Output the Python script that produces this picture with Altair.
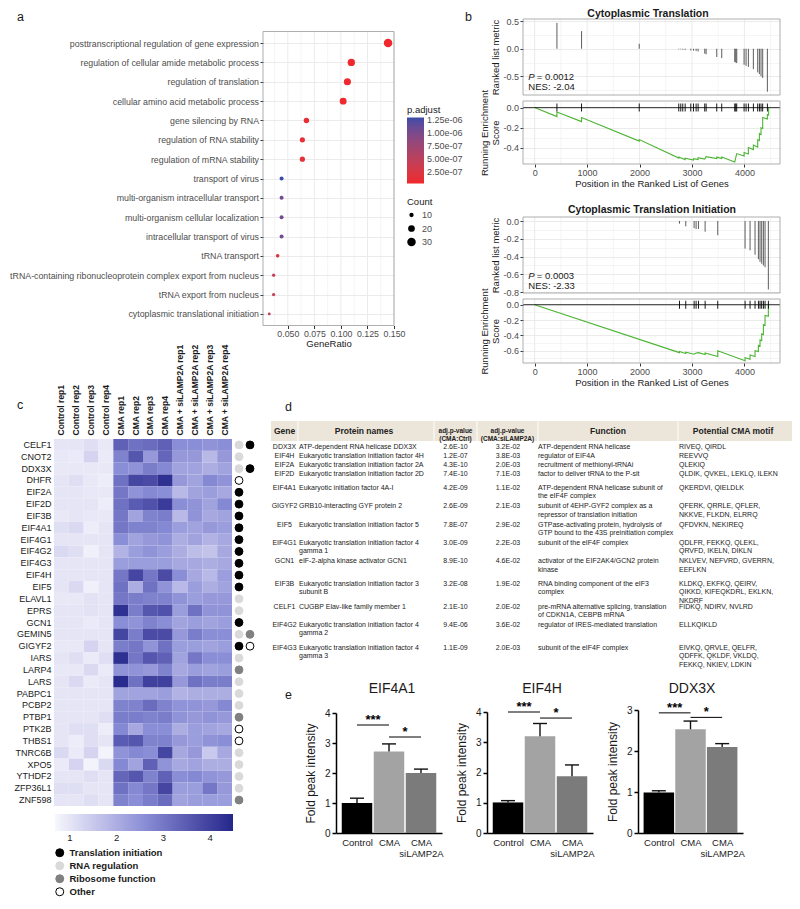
import json
import altair as alt
import pandas as pd

W, H = 784, 893


def px(v):
    return v - 8


def py(v):
    return v - 8


FONT = "Liberation Sans"
GRID = "#EBEBEB"
FRAME = "#9A9A9A"
AXC = "#333333"
LABC = "#4D4D4D"
TXT = "#1A1A1A"
ES_GREEN = "#4DB535"

# ---------------- panel a data ----------------
go_terms = [
    "posttranscriptional regulation of gene expression",
    "regulation of cellular amide metabolic process",
    "regulation of translation",
    "cellular amino acid metabolic process",
    "gene silencing by RNA",
    "regulation of RNA stability",
    "regulation of mRNA stability",
    "transport of virus",
    "multi-organism intracellular transport",
    "multi-organism cellular localization",
    "intracellular transport of virus",
    "tRNA transport",
    "tRNA-containing ribonucleoprotein complex export from nucleus",
    "tRNA export from nucleus",
    "cytoplasmic translational initiation",
]
go_ratio = [0.1444, 0.1098, 0.1061, 0.1021, 0.0675, 0.0637, 0.0637, 0.0441, 0.0441,
            0.0441, 0.0441, 0.0404, 0.0366, 0.0366, 0.0325]
go_count = [30, 23, 22, 21, 14, 13, 13, 9, 9, 9, 9, 8, 7, 7, 6]
go_padj = [1.9e-08, 2.4e-08, 2.8e-08, 3.3e-08, 9.0e-08, 1.1e-07, 1.1e-07, 1.29e-06, 1.05e-06,
           1.05e-06, 1.05e-06, 2.6e-07, 4.2e-07, 4.2e-07, 5.0e-07]
padj_ticks = [2.5e-07, 5.0e-07, 7.5e-07, 1.0e-06, 1.25e-06]
count_ticks = [10, 20, 30]
ratio_ticks = [0.0375, 0.05, 0.0625, 0.075, 0.0875, 0.1, 0.1125, 0.125, 0.1375, 0.15]

# ---------------- panel b data ----------------
gsea_titles = ["Cytoplasmic Translation", "Cytoplasmic Translation Initiation"]
gsea_p = ["0.0012", "0.0003"]
gsea_nes = ["-2.04", "-2.33"]
ct_hits = [425, 895, 1994, 2749, 2787, 2825, 2870, 2978, 3029, 3079, 3117, 3244, 3270, 3473,
           3568, 3816, 3835, 3854, 3994, 4032, 4076, 4171, 4254, 4286, 4317, 4349, 4438]
ct_metric = [0.47, 0.32, 0.09, -0.01, -0.01, -0.015, -0.02, -0.03, -0.035, -0.04, -0.05, -0.09,
             -0.10, -0.15, -0.17, -0.24, -0.25, -0.26, -0.29, -0.31, -0.33, -0.37, -0.43, -0.46,
             -0.50, -0.53, -0.78]
ct_es_x = [0, 425, 425, 895, 895, 1994, 1994, 2749, 2749, 2870, 2870, 3029, 3029, 3117, 3117,
           3244, 3270, 3473, 3473, 3568, 3568, 3816, 3835, 3854, 3994, 3994, 4076, 4076, 4171,
           4171, 4254, 4254, 4286, 4286, 4317, 4317, 4349, 4349, 4438, 4438, 4462, 4462]
ct_es_y = [0, -0.09, -0.045, -0.14, -0.10, -0.335, -0.32, -0.505, -0.495, -0.52, -0.505, -0.525,
           -0.51, -0.52, -0.50, -0.515, -0.49, -0.51, -0.495, -0.51, -0.495, -0.545, -0.50, -0.46,
           -0.485, -0.45, -0.465, -0.40, -0.42, -0.375, -0.395, -0.32, -0.33, -0.26, -0.27, -0.20,
           -0.21, -0.10, -0.115, -0.07, -0.075, 0.0]
cti_hits = [2762, 2882, 3041, 3079, 3124, 3251, 3492, 4013, 4108, 4203, 4267, 4298, 4330, 4362,
            4394, 4457]
cti_metric = [-0.03, -0.06, -0.08, -0.09, -0.09, -0.12, -0.16, -0.31, -0.33, -0.38, -0.43, -0.46,
              -0.48, -0.50, -0.52, -0.77]
cti_es_x = [0, 2762, 2762, 2882, 2882, 3041, 3079, 3124, 3251, 3251, 3492, 3492, 4013, 4013, 4108,
            4108, 4203, 4203, 4267, 4267, 4298, 4298, 4330, 4330, 4362, 4362, 4394, 4394, 4457, 4457]
cti_es_y = [0, -0.625, -0.61, -0.635, -0.62, -0.645, -0.63, -0.625, -0.65, -0.63, -0.675, -0.60,
            -0.73, -0.69, -0.71, -0.655, -0.675, -0.60, -0.61, -0.53, -0.54, -0.46, -0.47, -0.38,
            -0.39, -0.26, -0.27, -0.14, -0.15, 0.0]
gsea_xticks = [0, 500, 1000, 1500, 2000, 2500, 3000, 3500, 4000, 4500]

# ---------------- panel c data ----------------
hm_samples = ["Control rep1", "Control rep2", "Control rep3", "Control rep4",
              "CMA rep1", "CMA rep2", "CMA rep3", "CMA rep4",
              "CMA + siLAMP2A rep1", "CMA + siLAMP2A rep2", "CMA + siLAMP2A rep3",
              "CMA + siLAMP2A rep4"]
hm_genes = ["CELF1", "CNOT2", "DDX3X", "DHFR", "EIF2A", "EIF2D", "EIF3B", "EIF4A1", "EIF4G1",
            "EIF4G2", "EIF4G3", "EIF4H", "EIF5", "ELAVL1", "EPRS", "GCN1", "GEMIN5", "GIGYF2",
            "IARS", "LARP4", "LARS", "PABPC1", "PCBP2", "PTBP1", "PTK2B", "THBS1", "TNRC6B",
            "XPO5", "YTHDF2", "ZFP36L1", "ZNF598"]
hm_control = [
    [1.0, 1.0, 1.1, 0.95], [0.95, 0.9, 1.3, 0.9], [0.95, 0.95, 0.95, 0.95], [1.0, 1.1, 0.95, 0.85],
    [1.0, 1.0, 0.95, 0.95], [1.0, 1.0, 1.0, 0.85], [0.95, 1.0, 0.95, 0.95], [1.1, 1.2, 0.85, 1.0],
    [1.0, 1.0, 1.0, 1.0], [1.2, 1.1, 0.8, 1.0], [1.0, 1.0, 1.0, 1.0], [1.0, 1.0, 1.0, 1.0],
    [1.0, 1.2, 0.8, 1.0], [0.95, 0.95, 1.05, 1.0], [1.0, 1.0, 1.05, 1.0], [1.0, 1.0, 0.9, 1.0],
    [1.0, 1.0, 1.0, 1.0], [0.95, 0.95, 1.3, 1.0], [1.0, 1.1, 0.9, 1.1], [0.95, 0.95, 1.2, 0.9],
    [1.0, 1.2, 0.9, 1.0], [1.0, 1.0, 1.0, 1.0], [1.0, 1.0, 1.0, 1.0], [1.0, 1.0, 1.0, 1.1],
    [1.0, 1.1, 1.1, 0.85], [1.0, 0.85, 1.1, 1.0], [1.2, 0.9, 1.3, 0.75], [0.9, 1.3, 0.75, 1.2],
    [1.0, 1.0, 1.1, 1.0], [1.1, 1.1, 1.0, 1.0], [1.0, 1.0, 1.1, 1.0],
]
hm_cma = [
    [3.4, 3.1, 3.2, 3.4], [2.8, 3.6, 2.4, 3.3], [2.6, 2.5, 2.9, 2.7], [3.1, 3.9, 3.8, 4.3],
    [3.0, 2.5, 2.7, 2.6], [3.1, 3.5, 3.7, 4.1], [3.0, 2.2, 2.8, 2.9], [3.0, 2.8, 2.8, 2.7],
    [2.6, 2.2, 2.4, 2.5], [1.9, 2.3, 2.5, 2.3], [2.3, 2.3, 2.3, 2.3], [3.0, 3.9, 3.0, 3.8],
    [3.1, 2.0, 3.1, 2.5], [3.0, 2.9, 2.8, 2.8], [4.3, 2.9, 3.6, 3.7], [2.6, 2.5, 2.8, 2.6],
    [3.9, 2.9, 3.8, 3.8], [2.9, 3.0, 2.5, 3.1], [4.3, 3.0, 3.6, 3.4], [2.5, 2.5, 2.4, 2.8],
    [4.4, 3.1, 4.0, 4.0], [2.2, 2.2, 2.2, 2.3], [2.8, 2.8, 3.2, 2.8], [2.9, 2.9, 2.8, 2.9],
    [2.7, 2.1, 2.6, 2.6], [3.5, 3.6, 2.8, 2.8], [2.5, 2.7, 2.6, 3.9], [2.7, 2.2, 3.4, 2.5],
    [3.3, 3.6, 2.8, 3.4], [3.1, 2.7, 3.0, 3.9], [2.8, 2.6, 2.9, 3.2],
]
hm_si = [
    [2.6, 2.6, 2.5, 2.6], [2.4, 2.4, 1.8, 2.4], [2.2, 2.2, 2.0, 2.2], [2.4, 2.2, 2.7, 2.5],
    [1.8, 2.2, 2.3, 2.1], [2.6, 2.5, 2.2, 2.7], [1.8, 2.5, 2.1, 2.2], [2.3, 2.2, 2.4, 2.3],
    [2.0, 2.2, 1.9, 2.1], [2.0, 1.7, 1.6, 2.1], [2.1, 2.1, 2.0, 2.1], [2.6, 2.1, 1.8, 2.3],
    [1.8, 2.3, 2.0, 2.2], [2.5, 2.3, 2.4, 2.4], [2.3, 3.1, 2.5, 2.5], [2.2, 2.3, 2.2, 2.3],
    [2.4, 2.9, 2.6, 2.6], [2.3, 2.3, 2.2, 2.3], [2.2, 3.0, 2.6, 2.6], [2.1, 2.3, 2.2, 2.3],
    [2.4, 3.1, 2.9, 2.9], [1.9, 2.0, 2.0, 2.0], [2.5, 2.5, 2.4, 2.7], [2.5, 2.4, 2.5, 2.4],
    [2.0, 2.3, 2.2, 2.1], [2.4, 2.3, 2.5, 2.6], [2.1, 2.4, 1.5, 2.1], [2.1, 2.2, 2.0, 2.0],
    [2.6, 2.7, 2.5, 2.4], [2.3, 2.3, 3.0, 2.4], [2.2, 2.3, 2.3, 2.3],
]
hm_ticks = [1, 2, 3, 4]
func_cats = ["Translation initiation", "RNA regulation", "Ribosome function", "Other"]
func_fill = ["#000000", "#D9D9D9", "#808080", "#FFFFFF"]
func_stroke = ["#000000", "#D9D9D9", "#808080", "#000000"]
gene_cats = {
    "CELF1": ["RNA regulation", "Translation initiation"], "CNOT2": ["RNA regulation"],
    "DDX3X": ["RNA regulation", "Translation initiation"], "DHFR": ["Other"],
    "EIF2A": ["Translation initiation"], "EIF2D": ["Translation initiation"],
    "EIF3B": ["Translation initiation"], "EIF4A1": ["Translation initiation"],
    "EIF4G1": ["Translation initiation"], "EIF4G2": ["Translation initiation"],
    "EIF4G3": ["Translation initiation"], "EIF4H": ["Translation initiation"],
    "EIF5": ["Translation initiation"], "ELAVL1": ["RNA regulation"], "EPRS": ["RNA regulation"],
    "GCN1": ["Translation initiation"], "GEMIN5": ["RNA regulation", "Ribosome function"],
    "GIGYF2": ["Translation initiation", "Other"], "IARS": ["RNA regulation"],
    "LARP4": ["Ribosome function"], "LARS": ["RNA regulation"], "PABPC1": ["RNA regulation"],
    "PCBP2": ["RNA regulation"], "PTBP1": ["Ribosome function"], "PTK2B": ["Other"],
    "THBS1": ["Other"], "TNRC6B": ["RNA regulation"], "XPO5": ["RNA regulation"],
    "YTHDF2": ["RNA regulation"], "ZFP36L1": ["RNA regulation"], "ZNF598": ["Ribosome function"],
}

# ---------------- panel d data ----------------
tbl_header = ["Gene", "Protein names", "adj.p-value\n(CMA:Ctrl)", "adj.p-value\n(CMA:siLAMP2A)",
              "Function", "Potential CMA motif"]
tbl_gene = ["DDX3X", "EIF4H", "EIF2A", "EIF2D", "EIF4A1", "GIGYF2", "EIF5", "EIF4G1", "GCN1",
            "EIF3B", "CELF1", "EIF4G2", "EIF4G3"]
tbl_protein = [
    "ATP-dependent RNA helicase DDX3X", "Eukaryotic translation initiation factor 4H",
    "Eukaryotic translation initiation factor 2A", "Eukaryotic translation initiation factor 2D",
    "Eukaryotic initiation factor 4A-I", "GRB10-interacting GYF protein 2",
    "Eukaryotic translation initiation factor 5", "Eukaryotic translation initiation factor 4\ngamma 1",
    "eIF-2-alpha kinase activator GCN1", "Eukaryotic translation initiation factor 3\nsubunit B",
    "CUGBP Elav-like family member 1", "Eukaryotic translation initiation factor 4\ngamma 2",
    "Eukaryotic translation initiation factor 4\ngamma 3",
]
tbl_p_ctrl = ["2.6E-10", "1.2E-07", "4.3E-10", "7.4E-10", "4.2E-09", "2.6E-09", "7.8E-07",
              "3.0E-09", "8.9E-10", "3.2E-08", "2.1E-10", "9.4E-06", "1.1E-09"]
tbl_p_si = ["3.2E-02", "3.8E-03", "2.0E-03", "7.1E-03", "1.1E-02", "2.1E-03", "2.9E-02",
            "2.2E-03", "4.6E-02", "1.9E-02", "2.0E-02", "3.6E-02", "2.0E-03"]
tbl_function = [
    "ATP-dependent RNA helicase", "regulator of EIF4A", "recruitment of methionyl-tRNAi",
    "factor to deliver tRNA to the P-sit", "ATP-dependent RNA helicase subunit of\nthe eIF4F complex",
    "subunit of 4EHP-GYF2 complex as a\nrepressor of translation initiation",
    "GTPase-activating protein, hydrolysis of\nGTP bound to the 43S preinitiation complex",
    "subunit of the eIF4F complex", "activator of the EIF2AK4/GCN2 protein\nkinase",
    "RNA binding component of the eIF3\ncomplex",
    "pre-mRNA alternative splicing, translation\nof CDKN1A, CEBPB mRNA",
    "regulator of IRES-mediated translation", "subunit of the eIF4F complex",
]
tbl_motif = [
    "RIVEQ, QIRDL", "REEVVQ", "QLEKIQ", "QLDIK, QVKEL, LEKLQ, ILEKN", "QKERDVI, QIELDLK",
    "QFERK, QRRLE, QFLER,\nNKKVE, FLKDN, ELRRQ", "QFDVKN, NEKIREQ",
    "QDLFR, FEKKQ, QLEKL,\nQRVFD, IKELN, DIKLN", "NKLVEV, NEFVRD, GVERRN,\nEEFLKN",
    "KLDKQ, EKFKQ, QEIRV,\nQIKKD, KIFEQKDRL, EKLKN,\nNKDRF", "FIDKQ, NDIRV, NVLRD", "ELLKQIKLD",
    "EIVKQ, QRVLE, QELFR,\nQDFFK, QKLDF, VKLDQ,\nFEKKQ, NKIEV, LDKIN",
]

# ---------------- panel e data ----------------
bar_groups = ["Control", "CMA", "CMA siLAMP2A"]
bar_lines = [["Control"], ["CMA"], ["CMA", "siLAMP2A"]]
bar_colors = ["#000000", "#A3A3A3", "#7B7B7B"]
e_titles = ["EIF4A1", "EIF4H", "DDX3X"]
e_mean = [[1.0, 2.72, 2.0], [1.01, 3.2, 1.88], [0.99, 2.53, 2.1]]
e_upper = [[1.16, 2.97, 2.13], [1.07, 3.62, 2.25], [1.03, 2.73, 2.18]]
e_sig_level = [[3.6, 3.2], [4.0, 3.8], [2.93, 2.82]]
e_sig_label = ["***", "*"]
e_ymax = [4, 4, 3]

one = pd.DataFrame({"k": [0]})
layers = []


def is_major(v, step):
    return abs(v / step - round(v / step)) < 0.01


def grid_frame(ticks, step):
    return pd.DataFrame({"v": ticks, "w": [1.0 if is_major(v, step) else 0.5 for v in ticks]})


# =============== panel a =================
dfa = pd.DataFrame({"term": go_terms, "ratio": go_ratio, "count": go_count, "padj": go_padj})
A_XDOM = [0.0266, 0.150]
A_XR = [px(263), px(394)]
A_YR = [py(31.5), py(325.5)]
mt_a = "abs(datum.value / 0.025 - round(datum.value / 0.025)) > 0.01"
a_xscale = alt.Scale(domain=A_XDOM, range=A_XR, nice=False, zero=False)
a_xaxis = alt.Axis(orient="bottom", offset=A_YR[1] - H, values=ratio_ticks, grid=False,
                   tickOpacity={"condition": {"test": mt_a, "value": 0}, "value": 1},
                   labelExpr="(" + mt_a + ") ? '' : format(datum.value, '.3f')",
                   tickColor=AXC, tickSize=3, domain=False, labelFontSize=8.8,
                   labelColor=LABC, labelPadding=0.5, labelFlush=False, labelOverlap=False,
                   title="GeneRatio", titleFontSize=9.5, titleFontWeight="normal",
                   titleColor=TXT, titlePadding=1)
a_grid = alt.Chart(grid_frame(ratio_ticks, 0.025)).mark_rule(color=GRID).encode(
    x=alt.X("v:Q", scale=a_xscale, axis=a_xaxis),
    y=alt.value(A_YR[0]), y2=alt.value(A_YR[1]),
    strokeWidth=alt.StrokeWidth("w:Q", scale=None, legend=None))
a_pts = alt.Chart(dfa).mark_circle(opacity=1).encode(
    x=alt.X("ratio:Q", scale=a_xscale, axis=a_xaxis),
    y=alt.Y("term:N", sort=go_terms,
            scale=alt.Scale(type="point", domain=go_terms, range=A_YR, padding=0.6),
            axis=alt.Axis(orient="left", offset=-A_XR[0], grid=True, gridColor=GRID,
                          tickColor=AXC, tickSize=3, domain=False, labelFontSize=8.8,
                          labelColor=LABC, labelLimit=400, labelPadding=1.5, title=None)),
    color=alt.Color("padj:Q",
                    scale=alt.Scale(domain=[1.9e-08, 1.29e-06], range=["#f0282c", "#3b4ca8"],
                                    interpolate="lab"),
                    legend=alt.Legend(title="p.adjust", orient="none", legendX=px(407),
                                      legendY=py(105), direction="vertical", gradientLength=66,
                                      gradientThickness=17, values=padj_ticks,
                                      labelExpr="replace(replace(format(datum.value, '.2e'), '\u2212', '-'), 'e-', 'e-0')",
                                      labelFontSize=9, labelColor=LABC, titleFontSize=9.5,
                                      titleFontWeight="normal", titleColor=TXT, titlePadding=3,
                                      labelOffset=3, gradientStrokeWidth=0, labelOverlap=False)),
    size=alt.Size("count:Q", scale=alt.Scale(domain=[6, 30], range=[8, 72]),
                  legend=alt.Legend(title="Count", orient="none", legendX=px(407),
                                    legendY=py(197), values=count_ticks, symbolFillColor="black",
                                    symbolStrokeWidth=0, symbolType="circle", labelFontSize=9,
                                    labelColor=LABC, titleFontSize=9.5, titleFontWeight="normal",
                                    titleColor=TXT, rowPadding=3.5, titlePadding=4,
                                    labelOffset=6)),
)
a_frame = alt.Chart(one).mark_rect(fill="transparent", stroke=FRAME, strokeWidth=0.8).encode(
    x=alt.XDatum(A_XDOM[0], scale=a_xscale, axis=a_xaxis), x2=alt.X2Datum(A_XDOM[1]),
    y=alt.value(A_YR[0]), y2=alt.value(A_YR[1]))
layers.append(alt.layer(a_grid, a_pts, a_frame))

# =============== panel b =================
B_XDOM = [-222, 4679]
B_XR = [px(523), px(780)]


def minor_test(step):
    return "abs(datum.value / %s - round(datum.value / %s)) > 0.01" % (step, step)


def yaxis_b(values, step, title):
    mt = minor_test(step)
    return alt.Axis(orient="left", offset=-B_XR[0], values=values, grid=True, gridColor=GRID,
                    gridWidth={"condition": {"test": mt, "value": 0.5}, "value": 1},
                    tickOpacity={"condition": {"test": mt, "value": 0}, "value": 1},
                    labelExpr="(" + mt + ") ? '' : replace(format(datum.value, '.1f'), '\u2212', '-')",
                    tickColor=AXC, tickSize=3, domain=False, labelFontSize=9, labelColor=LABC,
                    labelPadding=1.5, labelOverlap=False, labelFlush=False, title=title,
                    titleFontSize=9.5, titleFontWeight="normal", titleColor=TXT, titlePadding=2,
                    titleLineHeight=11)


def xaxis_b(bottom, labels):
    mt = "datum.value % 1000 != 0"
    kw = dict(orient="bottom", offset=bottom - H, values=gsea_xticks, grid=False, domain=False,
              labelFlush=False, labelOverlap=False)
    if labels:
        kw.update(labelExpr="(" + mt + ") ? '' : format(datum.value, 'd')",
                  tickOpacity={"condition": {"test": mt, "value": 0}, "value": 1},
                  tickColor=AXC, tickSize=3, labelFontSize=9, labelColor=LABC, labelPadding=1.5,
                  title="Position in the Ranked List of Genes", titleFontSize=9.5,
                  titleFontWeight="normal", titleColor=TXT, titlePadding=1)
    else:
        kw.update(labels=False, ticks=False, title="")
    return alt.Axis(**kw)


def gsea(idx, hits, metric, es_x, es_y, top_dom, top_px, bot_dom, bot_px, top_vals, top_step,
         bot_vals, bot_step, ann_y):
    ts = alt.Scale(domain=top_dom, range=[py(top_px[1]), py(top_px[0])], nice=False, zero=False)
    bs = alt.Scale(domain=bot_dom, range=[py(bot_px[1]), py(bot_px[0])], nice=False, zero=False)
    xs1 = alt.Scale(domain=B_XDOM, range=B_XR, nice=False, zero=False)
    xs2 = alt.Scale(domain=B_XDOM, range=B_XR, nice=False, zero=False)
    ax_tx = xaxis_b(py(top_px[1]), False)
    ax_ty = yaxis_b(top_vals, top_step, "Ranked list metric")
    ax_bx = xaxis_b(py(bot_px[1]), True)
    ax_by = yaxis_b(bot_vals, bot_step, ["Running Enrichment", "Score"])
    gdf = grid_frame(gsea_xticks, 1000)

    grid_t = alt.Chart(gdf).mark_rule(color=GRID).encode(
        x=alt.X("v:Q", scale=xs1, axis=ax_tx),
        y=alt.YDatum(top_dom[0], scale=ts, axis=ax_ty), y2=alt.Y2Datum(top_dom[1]),
        strokeWidth=alt.StrokeWidth("w:Q", scale=None, legend=None))
    dft = pd.DataFrame({"pos": hits, "metric": metric})
    rules = alt.Chart(dft).mark_rule(color="#333333", strokeWidth=0.8).encode(
        x=alt.X("pos:Q", scale=xs1, axis=ax_tx),
        y=alt.Y("metric:Q", scale=ts, axis=ax_ty),
        y2=alt.Y2Datum(0))
    frame_t = alt.Chart(one).mark_rect(fill="transparent", stroke=FRAME, strokeWidth=0.8).encode(
        x=alt.XDatum(B_XDOM[0], scale=xs1, axis=ax_tx), x2=alt.X2Datum(B_XDOM[1]),
        y=alt.YDatum(top_dom[0], scale=ts, axis=ax_ty), y2=alt.Y2Datum(top_dom[1]))
    dfann = pd.DataFrame({"x": [-120, -120, -120], "y": [ann_y[0], ann_y[0], ann_y[1]],
                          "t": ["P", "= " + gsea_p[idx], "NES: " + gsea_nes[idx]]})
    ann = []
    for j, (style, dx) in enumerate([("italic", 0), ("normal", 8.5), ("normal", 0)]):
        ann.append(alt.Chart(dfann.iloc[[j]]).mark_text(fontSize=9.5, fontStyle=style,
                                                        align="left", dx=dx, color=TXT).encode(
            x=alt.X("x:Q", scale=xs1, axis=ax_tx), y=alt.Y("y:Q", scale=ts, axis=ax_ty),
            text="t:N"))
    top = alt.layer(grid_t, rules, frame_t, *ann)

    grid_b = alt.Chart(gdf).mark_rule(color=GRID).encode(
        x=alt.X("v:Q", scale=xs2, axis=ax_bx),
        y=alt.YDatum(bot_dom[0], scale=bs, axis=ax_by), y2=alt.Y2Datum(bot_dom[1]),
        strokeWidth=alt.StrokeWidth("w:Q", scale=None, legend=None))
    dfe = pd.DataFrame({"pos": es_x, "es": es_y, "i": list(range(len(es_x)))})
    line = alt.Chart(dfe).mark_line(color=ES_GREEN, strokeWidth=1.1).encode(
        x=alt.X("pos:Q", scale=xs2, axis=ax_bx),
        y=alt.Y("es:Q", scale=bs, axis=ax_by),
        order=alt.Order("i:Q"))
    zero = alt.Chart(one).mark_rule(color="black", strokeWidth=0.8).encode(
        x=alt.XDatum(B_XDOM[0], scale=xs2, axis=ax_bx), x2=alt.X2Datum(B_XDOM[1]),
        y=alt.YDatum(0, scale=bs, axis=ax_by))
    ticks = alt.Chart(dft).mark_tick(orient="vertical", size=8, thickness=0.9, color="black",
                                     opacity=1).encode(
        x=alt.X("pos:Q", scale=xs2, axis=ax_bx), y=alt.YDatum(0, scale=bs, axis=ax_by))
    frame_b = alt.Chart(one).mark_rect(fill="transparent", stroke=FRAME, strokeWidth=0.8).encode(
        x=alt.XDatum(B_XDOM[0], scale=xs2, axis=ax_bx), x2=alt.X2Datum(B_XDOM[1]),
        y=alt.YDatum(bot_dom[0], scale=bs, axis=ax_by), y2=alt.Y2Datum(bot_dom[1]))
    bot = alt.layer(grid_b, line, zero, ticks, frame_b)
    return [top, bot]


layers += gsea(0, ct_hits, ct_metric, ct_es_x, ct_es_y, [-0.84, 0.54], (19, 95),
               [-0.564, 0.066], (101, 164), [-0.75, -0.5, -0.25, 0, 0.25, 0.5], 0.5,
               [-0.5, -0.4, -0.3, -0.2, -0.1, 0], 0.2, [-0.52, -0.70])
layers += gsea(1, cti_hits, cti_metric, cti_es_x, cti_es_y, [-0.81, 0.045], (217, 293),
               [-0.76, 0.074], (299, 363), [-0.8, -0.7, -0.6, -0.5, -0.4, -0.3, -0.2, -0.1, 0],
               0.2, [-0.7, -0.6, -0.5, -0.4, -0.3, -0.2, -0.1, 0], 0.2, [-0.62, -0.73])

# =============== panel c =================
rows = []
for gi, g in enumerate(hm_genes):
    vals = hm_control[gi] + hm_cma[gi] + hm_si[gi]
    for si, s in enumerate(hm_samples):
        rows.append({"gene": g, "sample": s, "value": vals[si]})
dfh = pd.DataFrame(rows)
HM_XR = [px(54), px(232)]
HM_YR = [py(439), py(806)]
heat = alt.Chart(dfh).mark_rect().encode(
    x=alt.X("sample:N", sort=hm_samples,
            scale=alt.Scale(type="band", domain=hm_samples, range=HM_XR, paddingInner=0,
                            paddingOuter=0),
            axis=alt.Axis(orient="top", offset=-py(439), labelAngle=270, ticks=False,
                          domain=False, labelPadding=4, labelFontSize=8.5, labelFontWeight="bold",
                          labelColor=TXT, labelLimit=200, title=None)),
    y=alt.Y("gene:N", sort=hm_genes,
            scale=alt.Scale(type="band", domain=hm_genes, range=HM_YR, paddingInner=0,
                            paddingOuter=0),
            axis=alt.Axis(orient="left", offset=-px(54), ticks=False, domain=False,
                          labelPadding=3, labelFontSize=9, labelColor=TXT, title=None)),
    color=alt.Color("value:Q",
                    scale=alt.Scale(domain=[0.68, 2.6, 4.49],
                                    range=["#F7F7FC", "#8A8ED6", "#23278A"]),
                    legend=alt.Legend(title=None, orient="none", legendX=px(55), legendY=py(814),
                                      direction="horizontal", gradientLength=178,
                                      gradientThickness=17, values=hm_ticks, labelFontSize=9.5,
                                      labelColor=TXT, gradientStrokeWidth=0)),
)
layers.append(heat)

drows = []
for g in hm_genes:
    for k, c in enumerate(gene_cats[g]):
        drows.append({"gene": g, "slot": k + 1, "cat": c})
dfd = pd.DataFrame(drows)
leg_kw = dict(title=None, orient="none", legendX=px(55), legendY=py(848), symbolSize=64,
              symbolStrokeWidth=1, symbolType="circle", labelFontSize=9.5,
              labelFontWeight="bold", labelColor=TXT, rowPadding=0, labelOffset=5)
dots = alt.Chart(dfd).mark_point(filled=True, size=62, strokeWidth=1, opacity=1).encode(
    x=alt.X("slot:Q", scale=alt.Scale(domain=[1, 2], range=[px(239), px(250)], nice=False,
                                      zero=False), axis=None),
    y=alt.Y("gene:N", sort=hm_genes,
            scale=alt.Scale(type="band", domain=hm_genes, range=HM_YR, paddingInner=0,
                            paddingOuter=0), axis=None),
    fill=alt.Fill("cat:N", scale=alt.Scale(domain=func_cats, range=func_fill),
                  legend=alt.Legend(**leg_kw)),
    stroke=alt.Stroke("cat:N", scale=alt.Scale(domain=func_cats, range=func_stroke),
                      legend=alt.Legend(**leg_kw)),
)
layers.append(dots)

# =============== panel d =================
hdr = pd.DataFrame({
    "x0": [px(271), px(298.5), px(434.5), px(477.5), px(538.5), px(678.5)],
    "x1": [px(297.5), px(433.5), px(476.5), px(537.5), px(677.5), px(792)],
    "xc": [px(284.5), px(364), px(455.5), px(507.5), px(608), px(733)],
    "label": tbl_header,
    "fs": [8.5, 8.5, 6.5, 6.5, 8.5, 8.5],
})
hdr_rect = alt.Chart(hdr).mark_rect(color="#ECE5D9").encode(
    x=alt.X("x0:Q", scale=None, axis=None), x2="x1:Q", y=alt.value(py(421)),
    y2=alt.value(py(441)))
hdr_text = alt.Chart(hdr).mark_text(fontWeight="bold", baseline="middle", lineBreak="\n",
                                    lineHeight=7.5, color="#222222").encode(
    x=alt.X("xc:Q", scale=None, axis=None), y=alt.value(py(431)), text="label:N",
    size=alt.Size("fs:Q", scale=None, legend=None))
layers.append(alt.layer(hdr_rect, hdr_text))

n_lines = [max(s.count("\n") + 1 for s in cells)
           for cells in zip(tbl_protein, tbl_function, tbl_motif)]
centers = []
acc = 0
for n in n_lines:
    centers.append(acc + n / 2.0)
    acc += n
UNIT = 9.14
dft = pd.DataFrame({"gene": tbl_gene, "protein": tbl_protein, "pc": tbl_p_ctrl, "ps": tbl_p_si,
                    "func": tbl_function, "motif": tbl_motif, "yc": centers})
tys = alt.Scale(domain=[0, acc], range=[py(442.4), py(442.4 + acc * UNIT)], nice=False,
                zero=False)


def tcol(field, xpos, align):
    return alt.Chart(dft).mark_text(fontSize=7, align=align, baseline="middle", lineBreak="\n",
                                    lineHeight=8.3, color="#222222").encode(
        x=alt.value(px(xpos)), y=alt.Y("yc:Q", scale=tys, axis=None), text=field + ":N")


layers.append(alt.layer(tcol("gene", 284.5, "center"), tcol("protein", 299, "left"),
                        tcol("pc", 455.5, "center"), tcol("ps", 508, "center"),
                        tcol("func", 538, "left"), tcol("motif", 679, "left")))

# =============== panel e =================
E_XR = [(336, 442), (487, 593), (638, 743)]
E_YTOP = [713, 712, 710]
lbl_expr = json.dumps(bar_lines) + "[floor(datum.value)]"
for k in range(3):
    xr = [px(E_XR[k][0]), px(E_XR[k][1])]
    yr = [py(833), py(E_YTOP[k])]
    xs = alt.Scale(domain=[0, 3], range=xr, nice=False, zero=False)
    ys = alt.Scale(domain=[0, e_ymax[k]], range=yr, nice=False)
    ex = alt.Axis(orient="bottom", offset=yr[0] - H, values=[0.5, 1.5, 2.5],
                  labelExpr=lbl_expr, ticks=False, domainColor="black",
                  domainWidth=1.5, grid=False, labelFontSize=9.5, labelColor=TXT,
                  labelPadding=4, labelFlush=False, labelOverlap=False,
                  labelLineHeight=11, title="")
    ey = alt.Axis(orient="left", offset=-xr[0], values=list(range(e_ymax[k] + 1)),
                  format="d", tickSize=4, tickWidth=1.5, tickColor="black",
                  domainColor="black", domainWidth=1.5, grid=False, labelFontSize=10,
                  labelColor=TXT, labelPadding=2, labelFlush=False,
                  title="Fold peak intensity", titleFontSize=12,
                  titleFontWeight="normal", titleColor=TXT, titlePadding=7)
    dfb = pd.DataFrame({"group": bar_groups, "pos": [0.5, 1.5, 2.5], "mean": e_mean[k],
                        "upper": e_upper[k]})
    bars = alt.Chart(dfb).mark_bar(size=30.5).encode(
        x=alt.X("pos:Q", scale=xs, axis=ex),
        y=alt.Y("mean:Q", scale=ys, axis=ey),
        color=alt.Color("group:N", scale=alt.Scale(domain=bar_groups, range=bar_colors),
                        legend=None),
    )
    err = alt.Chart(dfb).mark_rule(color="#111111", strokeWidth=1.4).encode(
        x=alt.X("pos:Q", scale=xs, axis=ex), y=alt.Y("mean:Q", scale=ys, axis=ey), y2="upper:Q")
    cap = alt.Chart(dfb).mark_tick(orient="horizontal", size=14, thickness=1.4, color="#111111",
                                   opacity=1).encode(
        x=alt.X("pos:Q", scale=xs, axis=ex), y=alt.Y("upper:Q", scale=ys, axis=ey))
    dfs = pd.DataFrame({"x1": [0.5, 1.5], "x2": [1.5, 2.5], "xm": [1.0, 2.0],
                        "lvl": e_sig_level[k], "lab": e_sig_label})
    sig = alt.Chart(dfs).mark_rule(color="black", strokeWidth=1).encode(
        x=alt.X("x1:Q", scale=xs, axis=ex), x2="x2:Q", y=alt.Y("lvl:Q", scale=ys, axis=ey))
    sigt = alt.Chart(dfs).mark_text(fontSize=13, fontWeight="bold", baseline="alphabetic", dy=-1,
                                    color="black").encode(
        x=alt.X("xm:Q", scale=xs, axis=ex), y=alt.Y("lvl:Q", scale=ys, axis=ey), text="lab:N")
    layers.append(alt.layer(bars, err, cap, sig, sigt))

# =============== free texts (panel letters, titles) =================
letters = pd.DataFrame({"t": ["a", "b", "c", "d", "e"],
                        "x": [px(17), px(465), px(17), px(285), px(285)],
                        "y": [py(21), py(21), py(409), py(411), py(699)]})
layers.append(alt.Chart(letters).mark_text(fontSize=12.5, align="left", baseline="alphabetic",
                                           color=TXT).encode(
    x=alt.X("x:Q", scale=None, axis=None), y=alt.Y("y:Q", scale=None, axis=None), text="t:N"))
btitles = pd.DataFrame({"t": gsea_titles, "x": [px(648), px(652)], "y": [py(17), py(213)]})
layers.append(alt.Chart(btitles).mark_text(fontSize=10.5, fontWeight="bold", align="center",
                                           baseline="alphabetic", color=TXT).encode(
    x=alt.X("x:Q", scale=None, axis=None), y=alt.Y("y:Q", scale=None, axis=None), text="t:N"))
etitles = pd.DataFrame({"t": e_titles, "x": [px(392), px(542), px(692)],
                        "y": [py(693), py(693), py(693)]})
layers.append(alt.Chart(etitles).mark_text(fontSize=14, align="center", baseline="alphabetic",
                                           color=TXT).encode(
    x=alt.X("x:Q", scale=None, axis=None), y=alt.Y("y:Q", scale=None, axis=None), text="t:N"))

chart = alt.layer(*layers).resolve_scale(
    x="independent", y="independent", color="independent", size="independent",
    fill="independent", stroke="independent", strokeWidth="independent"
).properties(
    width=W, height=H, padding=0, autosize=alt.AutoSizeParams(type="none")
).configure(font=FONT).configure_view(strokeWidth=0)

chart.save("out.html", embed_options={"renderer": "svg", "actions": False})
